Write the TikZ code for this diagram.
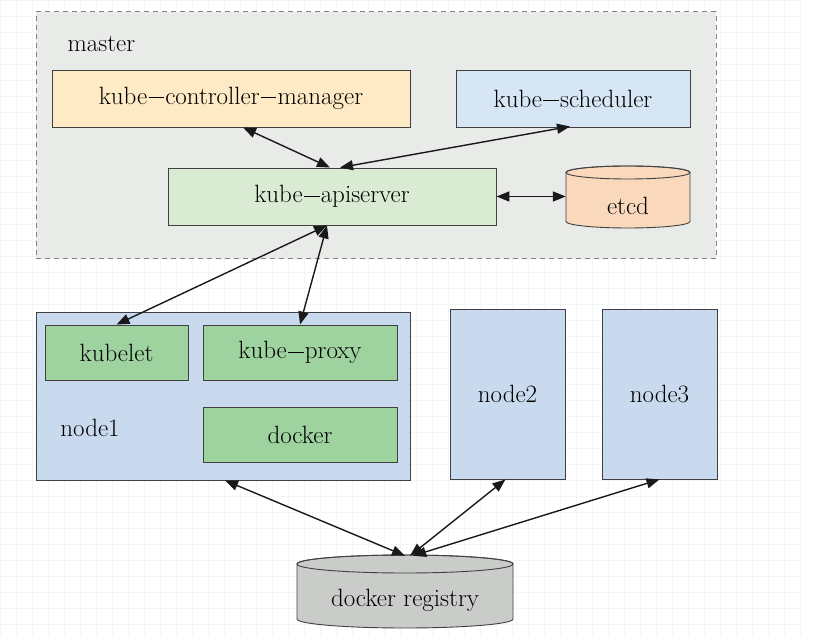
\documentclass[tikz,border=0pt]{standalone}
\usepackage{fontspec}
\usetikzlibrary{arrows.meta,calc}
\definecolor{masterbg}{HTML}{E9EBE8}
\definecolor{kcmfill}{HTML}{FEEAC4}
\definecolor{schedfill}{HTML}{D6E6F5}
\definecolor{apifill}{HTML}{D9ECD3}
\definecolor{etcdfill}{HTML}{FAD8BC}
\definecolor{nodefill}{HTML}{C9DAEE}
\definecolor{compfill}{HTML}{9ED3A0}
\definecolor{regfill}{HTML}{C9CCC8}
\definecolor{edge}{HTML}{404040}
\definecolor{gridc}{HTML}{F4F6F6}
\newcommand\kdash{\kern0.05em\rule[0.25em]{0.62em}{0.035em}\kern0.05em}
\tikzset{
  lbl/.style={font=\fontsize{25}{28}\selectfont, text=black},
  boxst/.style={draw=edge, line width=0.9pt, inner sep=0pt, lbl},
  conn/.style={line width=1.4pt, black!90, {Triangle[length=13pt,width=10pt]}-{Triangle[length=13pt,width=10pt]}},
}
\begin{document}
\begin{tikzpicture}[x=1pt,y=-1pt]
\useasboundingbox (0,0) rectangle (839,636);
\fill[white] (0,0) rectangle (839,636);
\foreach \gx in {0,16,...,800} {\draw[gridc, line width=0.5pt] (\gx,0) -- (\gx,636);}
\foreach \gy in {0,16,...,636} {\draw[gridc, line width=0.5pt] (0,\gy) -- (800,\gy);}
% master
\node[draw=black!50, dash pattern=on 5pt off 4pt, line width=1pt, fill=masterbg,
      minimum width=680, minimum height=247, inner sep=0pt] (master) at (376,135.5) {};
\node[lbl, anchor=west] (mlabel) at (64,44) {master};
\node[boxst, fill=kcmfill, minimum width=358, minimum height=57] (kcm) at (231,98.5) {kube\kdash controller\kdash manager};
\node[boxst, fill=schedfill, minimum width=234, minimum height=57] (sched) at (573,98.5) {kube\kdash scheduler};
\node[boxst, fill=apifill, minimum width=328, minimum height=57] (api) at (332,196.5) {kube\kdash apiserver};
% etcd cylinder
\node[minimum width=124, minimum height=62, inner sep=0pt] (etcd) at (628,197) {};
\filldraw[fill=etcdfill, draw=edge, line width=0.9pt]
  (566,172.5) -- (566,221.5) arc[start angle=180, end angle=0, x radius=62, y radius=6.5]
  -- (690,172.5) arc[start angle=360, end angle=180, x radius=62, y radius=6.5] -- cycle;
\draw[edge, line width=0.9pt] (628,172.5) ellipse[x radius=62, y radius=6.5];
\node[lbl] (etcdl) at (628,206) {etcd};
% node1
\node[boxst, fill=nodefill, minimum width=374, minimum height=168] (node1) at (223,396) {};
\node[lbl] (n1label) at (90,428) {node1};
\node[boxst, fill=compfill, minimum width=143, minimum height=55] (kubelet) at (116.5,352.5) {kubelet};
\node[boxst, fill=compfill, minimum width=194, minimum height=55] (kproxy) at (300,352.5) {kube\kdash proxy};
\node[boxst, fill=compfill, minimum width=194, minimum height=55] (docker) at (300,434.5) {docker};
% node2, node3
\node[boxst, fill=nodefill, minimum width=115, minimum height=170] (node2) at (507.5,394) {node2};
\node[boxst, fill=nodefill, minimum width=115, minimum height=170] (node3) at (659.5,394) {node3};
% registry
\node[minimum width=216, minimum height=73, inner sep=0pt] (reg) at (405,591.5) {};
\filldraw[fill=regfill, draw=edge, line width=0.9pt]
  (297,564) -- (297,619) arc[start angle=180, end angle=0, x radius=108, y radius=9]
  -- (513,564) arc[start angle=360, end angle=180, x radius=108, y radius=9] -- cycle;
\draw[edge, line width=0.9pt] (405,564) ellipse[x radius=108, y radius=9];
\node[lbl] (regl) at (405,600) {docker registry};
% connectors
\draw[conn] ($(kcm.south)+(12,0)$) -- ($(api.north)+(-2,0)$);
\draw[conn] ($(sched.south)+(-3,-1)$) -- ($(api.north)+(8,0)$);
\draw[conn] (api.east) -- (etcd.west |- api.east);
\draw[conn] ($(api.south)+(-5,0)$) -- (kubelet.north);
\draw[conn] ($(api.south)+(-5,0)$) -- (kproxy.north);
\draw[conn] ($(node1.south)+(2,0)$) -- ($(reg.north)+(0,1)$);
\draw[conn] ($(node2.south)+(-2,0)$) -- ($(reg.north)+(5,1)$);
\draw[conn] (node3.south) -- ($(reg.north)+(8,1)$);
\end{tikzpicture}
\end{document}
